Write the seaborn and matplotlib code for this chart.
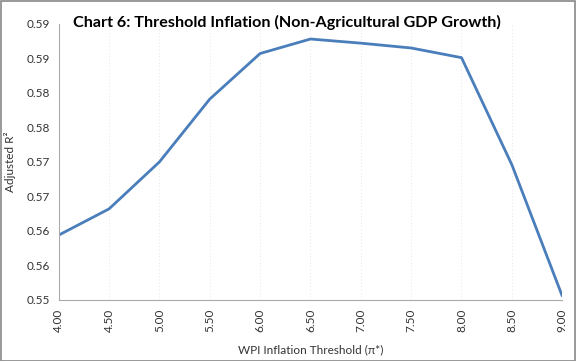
import numpy as np
import pandas as pd
import seaborn as sns
import matplotlib.pyplot as plt
from matplotlib.patches import Rectangle

# values
thresholds = [4.0, 4.5, 5.0, 5.5, 6.0, 6.5, 7.0, 7.5, 8.0, 8.5, 9.0]
adj_r2 = [0.5594, 0.5632, 0.5700, 0.5791, 0.5857, 0.5878, 0.5872, 0.5865, 0.5851, 0.5696, 0.5506]
y_ticks = [0.550, 0.555, 0.560, 0.565, 0.570, 0.575, 0.580, 0.585, 0.590]
y_labels = ["0.55", "0.56", "0.56", "0.57", "0.57", "0.58", "0.58", "0.59", "0.59"]
x_labels = ["4.00", "4.50", "5.00", "5.50", "6.00", "6.50", "7.00", "7.50", "8.00", "8.50", "9.00"]

df = pd.DataFrame({"thr": thresholds, "r2": adj_r2})

sns.set_style("white")
plt.rcParams['font.family'] = ['Lato', 'DejaVu Sans']

fig = plt.figure(figsize=(5.76, 3.61), dpi=100)
ax = fig.add_axes([0.102, 0.169, 0.874, 0.765])

sns.lineplot(data=df, x="thr", y="r2", color="#4a7ebb", linewidth=2, ax=ax)

ax.set_xlim(4.0, 9.0)
ax.set_ylim(0.55, 0.59)
ax.set_xticks(thresholds)
ax.set_xticklabels(x_labels, rotation=90, fontsize=8.5, color="#333333")
ax.set_yticks(y_ticks)
ax.set_yticklabels(y_labels, fontsize=8.5, color="#333333")
ax.tick_params(axis="both", direction="out", length=4, width=0.8, color="#999999", pad=2)

# faint dotted vertical grid
ax.xaxis.grid(True, linestyle=(0, (1, 3)), color="#dddddd", linewidth=0.6)
ax.yaxis.grid(False)

for s in ["top", "right"]:
    ax.spines[s].set_visible(False)
for s in ["left", "bottom"]:
    ax.spines[s].set_color("#aaaaaa")
    ax.spines[s].set_linewidth(0.8)

ax.set_xlabel("WPI Inflation Threshold (\u03c0*)", fontsize=8.5, color="#333333", labelpad=9)
ax.set_ylabel("Adjusted R\u00b2", fontsize=8.5, color="#333333", labelpad=8)

fig.text(0.498, 1 - 22 / 361, "Chart 6: Threshold Inflation (Non-Agricultural GDP Growth)",
         ha="center", va="center", fontsize=11.6, fontweight="bold", color="black")

# outer grey frame
fig.patches.append(Rectangle((0.001, 0.001), 0.997, 0.996, transform=fig.transFigure,
                             fill=False, edgecolor="#888888", linewidth=1.2))

plt.savefig("out.png", dpi=100)
